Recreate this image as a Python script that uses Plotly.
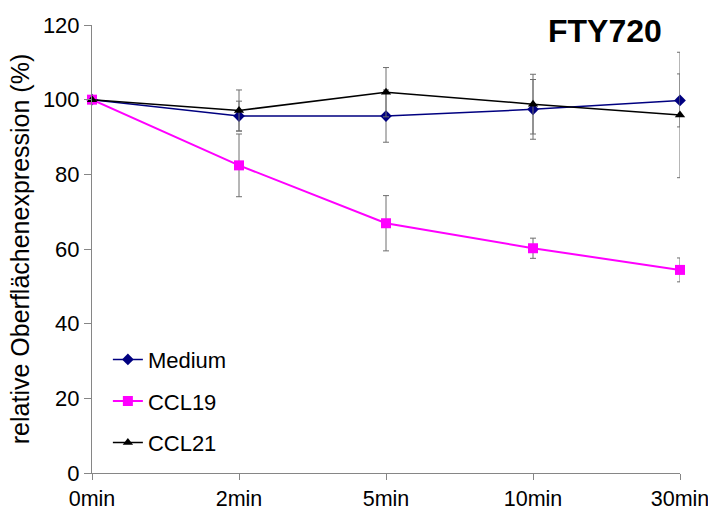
import plotly.graph_objects as go

# Time points after stimulation
time_labels = ["0min", "2min", "5min", "10min", "30min"]
time_pos = [0, 1, 2, 3, 4]

# Relative surface expression (%) and standard deviations
medium = [100, 95.6, 95.6, 97.4, 99.8]
medium_err = [0, 4.0, 7.0, 8.0, 7.1]

ccl19 = [100, 82.4, 66.9, 60.2, 54.4]
ccl19_err = [0, 8.4, 7.4, 2.7, 3.2]

ccl21 = [100, 97.1, 102.0, 98.8, 95.9]
ccl21_err = [0, 5.5, 6.6, 8.0, 16.8]

font_main = "Liberation Sans, Arial, sans-serif"
axis_grey = "#868686"


def err(values):
    return dict(type="data", array=values, visible=True,
                color="#6e6e6e", thickness=1, width=3)


fig = go.Figure()
fig.add_trace(go.Scatter(
    x=time_pos, y=medium, name="Medium", mode="lines+markers",
    line=dict(color="#000080", width=1.5),
    marker=dict(symbol="diamond", size=9, color="#000080"),
    error_y=err(medium_err), cliponaxis=False, legendgroup="a"))
fig.add_trace(go.Scatter(
    x=time_pos, y=ccl19, name="CCL19", mode="lines+markers",
    line=dict(color="#FF00FF", width=2),
    marker=dict(symbol="square", size=10, color="#FF00FF"),
    error_y=err(ccl19_err), cliponaxis=False, legendgroup="b"))
fig.add_trace(go.Scatter(
    x=time_pos, y=ccl21, name="CCL21", mode="lines+markers",
    line=dict(color="#000000", width=1.5),
    marker=dict(symbol="triangle-up", size=9, color="#000000"),
    error_y=err(ccl21_err), cliponaxis=False, legendgroup="c"))

fig.add_annotation(
    text="<b>FTY720</b>", xref="paper", yref="paper",
    x=0.973, y=0.987, xanchor="right", yanchor="middle", showarrow=False,
    font=dict(family=font_main, size=32, color="#000000"))

fig.update_layout(
    width=708, height=520,
    margin=dict(l=92, r=28, t=25, b=47),
    paper_bgcolor="white", plot_bgcolor="white",
    font=dict(family=font_main, size=22, color="#000000"),
    showlegend=True,
    legend=dict(x=0.027, y=0.30, xanchor="left", yanchor="top",
                bgcolor="rgba(0,0,0,0)", font=dict(size=22),
                traceorder="grouped", tracegroupgap=10, itemwidth=30),
    xaxis=dict(
        range=[0, 4], tickmode="array", tickvals=time_pos, ticktext=time_labels,
        showgrid=False, zeroline=False, showline=True, linecolor=axis_grey,
        linewidth=1, ticks="outside", ticklen=6, tickcolor=axis_grey,
        tickfont=dict(size=21.5), ticklabeloverflow="allow", automargin=False),
    yaxis=dict(
        range=[0, 120], tick0=0, dtick=20, showgrid=False, zeroline=False,
        showline=True, linecolor=axis_grey, linewidth=1, ticks="outside",
        ticklen=7, tickcolor=axis_grey, tickfont=dict(size=22), automargin=False,
        title=dict(text="relative Oberflächenexpression (%)",
                   font=dict(size=25), standoff=6)),
)

fig.write_html("out.html")
